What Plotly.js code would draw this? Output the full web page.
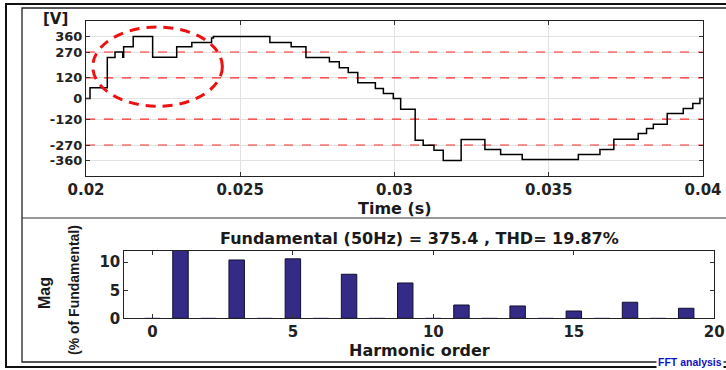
<!DOCTYPE html>
<html>
<head>
<meta charset="utf-8">
<script src="https://cdn.plot.ly/plotly-3.0.1.min.js"></script>
<style>
  html, body { margin: 0; padding: 0; background: #ffffff; }
  #chart { width: 726px; height: 370px; }
</style>
</head>
<body>
<div id="chart"></div>
<script>
// ---- Data ----
// Staircase voltage waveform: step start times (s) and levels (V)
var stepTimes = [
  0.02000, 0.02013, 0.02069, 0.02094, 0.02119, 0.02122, 0.02153, 0.02216,
  0.02294, 0.02343, 0.02407, 0.02413, 0.02596, 0.02665, 0.02713, 0.02789,
  0.02821, 0.02850, 0.02881, 0.02938, 0.02964, 0.02996, 0.03020, 0.03067,
  0.03093, 0.03128, 0.03158, 0.03216, 0.03293, 0.03344, 0.03414, 0.03596,
  0.03666, 0.03711, 0.03790, 0.03817, 0.03839, 0.03884, 0.03936, 0.03967,
  0.03990, 0.04000
];
var stepVolts = [
  0, 62, 238, 270, 240, 300, 360, 240,
  300, 325, 352, 360, 325, 300, 238, 213,
  178, 151, 91, 58, 29, 0, -62, -242,
  -271, -300, -360, -238, -296, -325, -354, -325,
  -296, -236, -203, -174, -149, -87, -58, -29,
  0, 0
];
// Reference levels drawn as red dashed lines
var refLevels = [270, 120, -120, -270];
var voltTickVals = [-360, -270, -120, 0, 120, 270, 360];
var voltTickText = ['-360', '-270', '-120', '0', '120', '270', '360'];
var timeTickVals = [0.02, 0.025, 0.03, 0.035, 0.04];
var timeTickText = ['0.02', '0.025', '0.03', '0.035', '0.04'];
// Highlighted region (dashed ellipse) in data units: time span and voltage span
var highlightTime = [0.02022, 0.02442];
var highlightVolt = [-45, 415];

// FFT spectrum: harmonic order and magnitude (% of fundamental)
var harmonicOrder = [0, 1, 2, 3, 4, 5, 6, 7, 8, 9, 10, 11, 12, 13, 14, 15, 16, 17, 18, 19];
var harmonicMag   = [0.05, 100, 0.05, 10.4, 0.05, 10.6, 0.05, 7.85, 0.05, 6.3, 0.05, 2.37, 0.05, 2.2, 0.05, 1.3, 0.05, 2.86, 0.05, 1.79];
var harmTickVals = [0, 5, 10, 15, 20];
var magTickVals = [0, 5, 10];

var fftTitle = 'Fundamental (50Hz) = 375.4 , THD= 19.87%';

// ---- Helpers ----
var W = 726, H = 370;
function px(x) { return x / W; }
function py(y) { return 1 - y / H; }

var boldFont = { family: 'DejaVu Sans, Liberation Sans, Arial, sans-serif', weight: 'bold', color: '#1a1a1a' };
function f(size, extra) { var o = Object.assign({}, boldFont, { size: size }); return Object.assign(o, extra || {}); }

var barColors = harmonicMag.map(function (v) { return v < 0.5 ? '#b8b6e6' : '#332b86'; });
var barLineColors = harmonicMag.map(function (v) { return v < 0.5 ? '#b8b6e6' : '#111133'; });

var traces = [
  {
    type: 'scatter', mode: 'lines',
    x: stepTimes, y: stepVolts,
    line: { shape: 'hv', color: '#000000', width: 1.5 },
    xaxis: 'x', yaxis: 'y', hoverinfo: 'skip'
  },
  {
    type: 'bar',
    x: harmonicOrder, y: harmonicMag,
    width: 0.55,
    marker: { color: barColors, line: { color: barLineColors, width: 1 } },
    xaxis: 'x2', yaxis: 'y2', hoverinfo: 'skip'
  }
];

var shapes = [];
refLevels.forEach(function (lv) {
  shapes.push({
    type: 'line', xref: 'x', yref: 'y', x0: timeTickVals[0], x1: timeTickVals[timeTickVals.length - 1],
    y0: lv, y1: lv, layer: 'between',
    line: { color: 'rgba(255,20,20,0.9)', width: 1.1, dash: 'dash' }
  });
});
// Dashed highlight ellipse
shapes.push({
  type: 'circle', xref: 'x', yref: 'y',
  x0: highlightTime[0], x1: highlightTime[1], y0: highlightVolt[0], y1: highlightVolt[1],
  layer: 'above', fillcolor: 'rgba(0,0,0,0)',
  line: { color: '#ee1111', width: 3, dash: '10px,7px' }
});
// Outer frame
shapes.push({ type: 'rect', xref: 'paper', yref: 'paper', x0: px(6), x1: px(740), y0: py(367), y1: py(4),
  line: { color: '#111', width: 2 }, fillcolor: 'rgba(0,0,0,0)' });
// Inner frame
shapes.push({ type: 'rect', xref: 'paper', yref: 'paper', x0: px(22), x1: px(740), y0: py(362), y1: py(8),
  line: { color: '#222', width: 1.3 }, fillcolor: 'rgba(0,0,0,0)' });
// Panel separator
shapes.push({ type: 'line', xref: 'paper', yref: 'paper', x0: px(22), x1: px(740), y0: py(218), y1: py(218),
  line: { color: '#333', width: 1.2 } });

var annotations = [
  { xref: 'paper', yref: 'paper', x: px(55), y: py(19), text: '[V]', showarrow: false, font: f(15), xanchor: 'center', yanchor: 'middle' },
  { xref: 'paper', yref: 'paper', x: px(395), y: py(208), text: 'Time (s)', showarrow: false, font: f(16), xanchor: 'center', yanchor: 'middle' },
  { xref: 'paper', yref: 'paper', x: px(420), y: py(238), text: fftTitle, showarrow: false, font: f(16), xanchor: 'center', yanchor: 'middle' },
  { xref: 'paper', yref: 'paper', x: px(420), y: py(350), text: 'Harmonic order', showarrow: false, font: f(16), xanchor: 'center', yanchor: 'middle' },
  { xref: 'paper', yref: 'paper', x: px(44), y: py(293), text: 'Mag', showarrow: false, textangle: -90,
    font: { family: 'Liberation Sans, Arial, sans-serif', weight: 'bold', size: 16, color: '#1a1a1a' }, xanchor: 'center', yanchor: 'middle' },
  { xref: 'paper', yref: 'paper', x: px(74), y: py(290), text: '(% of Fundamental)', showarrow: false, textangle: -90,
    font: { family: 'Liberation Sans, Arial, sans-serif', weight: 'bold', size: 14, color: '#1a1a1a' }, xanchor: 'center', yanchor: 'middle' },
  { xref: 'paper', yref: 'paper', x: px(724), y: py(362), text: 'FFT analysis', showarrow: false, bgcolor: '#ffffff',
    font: { family: 'Liberation Sans, Arial, sans-serif', weight: 'bold', size: 10.5, color: '#1010c8' }, xanchor: 'right', yanchor: 'middle' }
];

var axisCommon = {
  ticks: 'inside', ticklen: 4, tickcolor: '#333', tickwidth: 1,
  showline: true, linecolor: '#222', linewidth: 1, mirror: 'ticks',
  zeroline: false, fixedrange: true
};

var layout = {
  width: W, height: H,
  margin: { l: 0, r: 0, t: 0, b: 0 },
  paper_bgcolor: '#ffffff', plot_bgcolor: '#ffffff',
  showlegend: false,
  xaxis: Object.assign({}, axisCommon, {
    domain: [px(86), px(703)], anchor: 'y',
    range: [0.02, 0.04], tickvals: timeTickVals, ticktext: timeTickText,
    showgrid: true, gridcolor: '#e2e2e2', gridwidth: 1,
    tickfont: f(15, { color: '#222' })
  }),
  yaxis: Object.assign({}, axisCommon, {
    domain: [py(176), py(21)], anchor: 'x',
    range: [-450, 450], tickvals: voltTickVals, ticktext: voltTickText,
    showgrid: true, gridcolor: '#e2e2e2', gridwidth: 1,
    tickfont: f(13, { color: '#222' })
  }),
  xaxis2: Object.assign({}, axisCommon, {
    domain: [px(124.3), px(714.3)], anchor: 'y2',
    range: [-1, 20], tickvals: harmTickVals,
    showgrid: false,
    tickfont: f(15, { color: '#222' })
  }),
  yaxis2: Object.assign({}, axisCommon, {
    domain: [py(318.3), py(251)], anchor: 'x2',
    range: [0, 12], tickvals: magTickVals,
    showgrid: false,
    tickfont: f(15, { color: '#222' })
  }),
  shapes: shapes,
  annotations: annotations
};

Plotly.newPlot('chart', traces, layout, { displayModeBar: false, staticPlot: true });
</script>
</body>
</html>
